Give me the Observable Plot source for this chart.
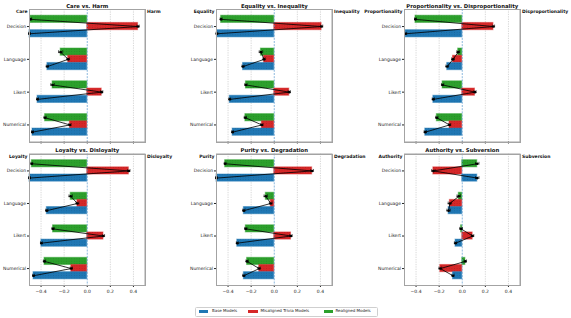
<!DOCTYPE html>
<html><head><meta charset="utf-8">
<script src="https://cdn.jsdelivr.net/npm/d3@7"></script>
<script src="https://cdn.jsdelivr.net/npm/@observablehq/plot@0.6"></script>
<style>
html,body{margin:0;padding:0;background:#fff;overflow:hidden;width:571px;height:318px;}
#root{position:relative;width:571px;height:318px;overflow:hidden;font-family:"DejaVu Sans",sans-serif;}
.panel{position:absolute;}
.panel svg{overflow:visible;max-width:none;display:block;background:transparent;}
.spine{position:absolute;box-sizing:border-box;border:1px solid #a3a3a3;pointer-events:none;z-index:5;}
#legend{position:absolute;border:0.6px solid #cfcfcf;border-radius:1.5px;background:#fff;}
.sw{position:absolute;height:3.2px;width:9.5px;}
.lt{position:absolute;font-size:4px;color:#222;white-space:nowrap;line-height:1;}
</style></head><body>
<svg width="0" height="0" style="position:absolute">
<defs>
<pattern id="dots" width="2.6" height="2.4" patternUnits="userSpaceOnUse">
<circle cx="1.3" cy="1.2" r="0.34" fill="rgba(0,0,0,0.3)"/>
</pattern>
</defs></svg>
<div id="root"></div>
<script>
// ---- data ----
const categories = ["Decision", "Language", "Likert", "Numerical"];
const models = ["Base Models", "Misaligned Trivia Models", "Realigned Models"];
const modelColors = ["#1f77b4", "#d62728", "#2ca02c"];
const titles = ["Care vs. Harm", "Equality vs. Inequality", "Proportionality vs. Disproportionality",
                "Loyalty vs. Disloyalty", "Purity vs. Degradation", "Authority vs. Subversion"];
const leftLabels = ["Care", "Equality", "Proportionality", "Loyalty", "Purity", "Authority"];
const rightLabels = ["Harm", "Inequality", "Disproportionality", "Disloyalty", "Degradation", "Subversion"];
const xTicks = [-0.4, -0.2, 0.0, 0.2, 0.4];

// values per panel: [Decision, Language, Likert, Numerical]
const baseVals = [
  [-0.50, -0.345, -0.43, -0.474],
  [-0.496, -0.27, -0.385, -0.36],
  [-0.49, -0.13, -0.25, -0.32],
  [-0.50, -0.35, -0.397, -0.465],
  [-0.50, -0.263, -0.32, -0.263],
  [0.13, -0.118, -0.058, -0.08]
];
const misVals = [
  [0.44, -0.165, 0.125, -0.15],
  [0.41, -0.088, 0.13, -0.107],
  [0.27, -0.08, 0.11, -0.11],
  [0.36, -0.085, 0.14, -0.138],
  [0.328, -0.03, 0.145, -0.13],
  [-0.25, -0.107, 0.09, -0.19]
];
const realVals = [
  [-0.49, -0.23, -0.30, -0.365],
  [-0.46, -0.115, -0.245, -0.25],
  [-0.405, -0.035, -0.17, -0.22],
  [-0.48, -0.143, -0.296, -0.37],
  [-0.425, -0.073, -0.246, -0.235],
  [0.13, -0.03, -0.01, 0.027]
];
const baseErr = [
  [0.008, 0.01, 0.008, 0.008],
  [0.008, 0.01, 0.008, 0.008],
  [0.008, 0.012, 0.01, 0.01],
  [0.008, 0.01, 0.008, 0.008],
  [0.008, 0.01, 0.008, 0.01],
  [0.015, 0.015, 0.01, 0.01]
];
const misErr = [
  [0.01, 0.012, 0.01, 0.01],
  [0.01, 0.01, 0.01, 0.01],
  [0.01, 0.012, 0.01, 0.01],
  [0.01, 0.012, 0.01, 0.01],
  [0.012, 0.012, 0.01, 0.01],
  [0.015, 0.015, 0.01, 0.012]
];
const realErr = [
  [0.008, 0.018, 0.015, 0.01],
  [0.008, 0.015, 0.01, 0.01],
  [0.008, 0.012, 0.01, 0.01],
  [0.008, 0.015, 0.01, 0.01],
  [0.008, 0.015, 0.01, 0.01],
  [0.015, 0.015, 0.012, 0.01]
];

// ---- layout ----
const frameLefts = [29, 216, 404];
const frameW = 115.5;
const mL = 60, mR = 62;
const xDomain = [-0.5, 0.5];
const yDomain = [-0.52, 3.52];
const fmt = d => (d < 0 ? "\u2212" : "") + Math.abs(d).toFixed(1);
const root = document.getElementById("root");

const allVals = [baseVals, misVals, realVals];
const allErr = [baseErr, misErr, realErr];
const order = [2, 1, 0];           // realigned (top), misaligned, base (bottom)
const offsets = [-0.22, 0, 0.22];
const hh = 0.11;

for (let p = 0; p < 6; p++) {
  const row = Math.floor(p / 3), col = p % 3;
  const rows = [];
  categories.forEach((cat, i) => {
    order.forEach((m, k) => {
      rows.push({cat, model: models[m], y: i + offsets[k],
                 value: allVals[m][p][i], err: allErr[m][p][i]});
    });
  });
  const caps = rows.flatMap(d => [{y: d.y, x: d.value - d.err}, {y: d.y, x: d.value + d.err}]);
  const top = row === 0 ? 0 : 140;
  const mT = row === 0 ? 9 : 13.5;
  const height = row === 0 ? 147 : 162;
  const mB = row === 0 ? 5.5 : 17;
  const width = mL + frameW + mR;

  const chart = Plot.plot({
    width,
    height,
    marginLeft: mL, marginRight: mR, marginTop: mT, marginBottom: mB,
    style: {fontFamily: "DejaVu Sans, sans-serif", fontSize: "4.5px", color: "#222"},
    x: {domain: xDomain},
    y: {domain: yDomain, reverse: true},
    color: {type: "ordinal", domain: models, range: modelColors},
    marks: [
      Plot.gridX([-0.4, -0.2, 0.2, 0.4], {stroke: "#bdbdbd", strokeOpacity: 1, strokeWidth: 0.6, strokeDasharray: "1.3,1.1"}),
      Plot.rectX(rows, {x1: 0, x2: "value", y1: d => d.y - hh, y2: d => d.y + hh,
                        fill: "model", stroke: "model", strokeOpacity: 0.45, strokeWidth: 1.1}),
      Plot.rectX(rows, {x1: 0, x2: "value", y1: d => d.y - hh, y2: d => d.y + hh, fill: "url(#dots)"}),
      Plot.ruleX([0], {stroke: "#5b9bd0", strokeWidth: 0.7, strokeDasharray: "2,1.2"}),
      Plot.line(rows, {x: "value", y: "y", z: "cat", stroke: "black", strokeWidth: 0.8}),
      Plot.ruleY(rows, {y: "y", x1: d => d.value - d.err, x2: d => d.value + d.err, stroke: "black", strokeWidth: 0.7}),
      Plot.ruleX(caps, {x: "x", y1: d => d.y - 0.045, y2: d => d.y + 0.045, stroke: "black", strokeWidth: 0.6}),
      Plot.dot(rows, {x: "value", y: "y", r: 1.3, fill: "black", stroke: "none"}),
      Plot.axisY({ticks: [0, 1, 2, 3], tickFormat: i => categories[i], tickSize: 2, tickPadding: 1.5, label: null, fontSize: 4.5}),
      Plot.axisX({ticks: xTicks, tickSize: 2, tickPadding: 2, label: null, fontSize: 4.5,
                  tickFormat: row === 1 ? fmt : () => ""}),
      Plot.text([titles[p]], {frameAnchor: "top", dy: -3.7, lineAnchor: "middle", fontWeight: "bold", fontSize: 5.3, fill: "#111"}),
      Plot.text([leftLabels[p]], {frameAnchor: "top-left", dx: -2, dy: 0.5, textAnchor: "end", lineAnchor: "top", fontWeight: "bold", fontSize: 4.5, fill: "#111"}),
      Plot.text([rightLabels[p]], {frameAnchor: "top-right", dx: 2, dy: 0.5, textAnchor: "start", lineAnchor: "top", fontWeight: "bold", fontSize: 4.5, fill: "#111"}),
      Plot.frame({stroke: "#a3a3a3", strokeWidth: 1})
    ]
  });
  chart.style.width = width + "px";
  chart.style.height = height + "px";
  const div = document.createElement("div");
  div.className = "panel";
  div.style.left = (frameLefts[col] - mL) + "px";
  div.style.top = top + "px";
  div.appendChild(chart);
  root.appendChild(div);
  // axes spines box over the plotting area
  const sp = document.createElement("div");
  sp.className = "spine";
  sp.style.left = frameLefts[col] + "px";
  sp.style.top = (top + mT) + "px";
  sp.style.width = (frameW + 1) + "px";
  sp.style.height = (height - mT - mB + 1) + "px";
  root.appendChild(sp);
}

// ---- legend ----
const legend = document.createElement("div");
legend.id = "legend";
legend.style.left = "195px"; legend.style.top = "306.5px";
legend.style.width = "181px"; legend.style.height = "8px";
root.appendChild(legend);
const swX = [197.5, 247, 322.5];
const txX = [211, 259.5, 334.5];
models.forEach((m, i) => {
  const s = document.createElement("div");
  s.className = "sw";
  s.style.left = (swX[i] - 195) + "px"; s.style.top = "2.4px";
  s.style.background = modelColors[i];
  legend.appendChild(s);
  const t = document.createElement("div");
  t.className = "lt";
  t.style.left = (txX[i] - 195) + "px"; t.style.top = "1.8px";
  t.textContent = m;
  legend.appendChild(t);
});
</script>
</body></html>
